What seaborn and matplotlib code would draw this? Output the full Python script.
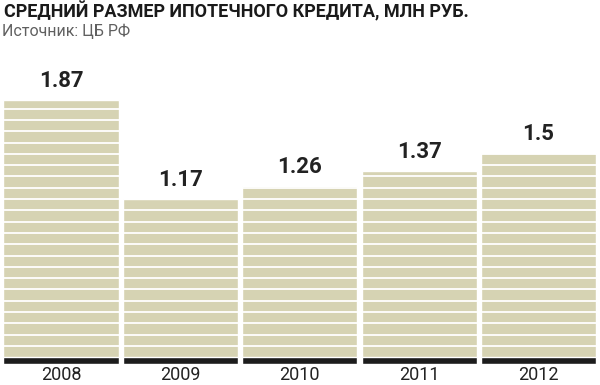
import numpy as np
import pandas as pd
import matplotlib
matplotlib.use("Agg")
import matplotlib.pyplot as plt
import seaborn as sns

# Данные
years = ["2008", "2009", "2010", "2011", "2012"]
avg_loan = [1.87, 1.17, 1.26, 1.37, 1.5]
value_labels = ["1.87", "1.17", "1.26", "1.37", "1.5"]

title = "СРЕДНИЙ РАЗМЕР ИПОТЕЧНОГО КРЕДИТА, МЛН РУБ."
source = "Источник: ЦБ РФ"

BAR_COLOR = "#d6d3b3"
BASE_COLOR = "#1c1c1c"

sns.set_style("white")
plt.rcParams["font.family"] = ["Roboto", "DejaVu Sans"]

df = pd.DataFrame({"Year": years, "Value": avg_loan})

fig = plt.figure(figsize=(6, 3.85), dpi=100)
ax = fig.add_axes([0, 21 / 385, 1, 304 / 385])

sns.barplot(data=df, x="Year", y="Value", color=BAR_COLOR, width=0.965,
            saturation=1, ax=ax, zorder=1)

# тёмная полоса у основания каждого столбика
base_h = 7 / 141
ax.bar(range(len(years)), [base_h] * len(years), width=0.965,
       color=BASE_COLOR, zorder=3)

# белые горизонтальные полосы
for yv in 0.128 + np.arange(30) * (11.3 / 141):
    ax.axhline(yv, color="white", lw=1.3, zorder=2)

ax.set_xlim(-0.511, 4.515)
ax.set_ylim(0, 304 / 141)
ax.axis("off")

for i, (v, lab) in enumerate(zip(avg_loan, value_labels)):
    ax.text(i, v + 8 / 141, lab, ha="center", va="bottom",
            fontsize=16, fontweight="bold", color="#222222")

for i, yr in enumerate(years):
    fig.text((61 + i * 119.4) / 600, 1 - 375 / 385, yr, ha="center",
             va="center", fontsize=13, color="#222222")

fig.text(4 / 600, 1 - 11 / 385, title, ha="left", va="center",
         fontsize=13, fontweight="bold", color="#1a1a1a")
fig.text(2 / 600, 1 - 31 / 385, source, ha="left", va="center",
         fontsize=11.5, color="#606060")

fig.savefig("out.png", dpi=100)
